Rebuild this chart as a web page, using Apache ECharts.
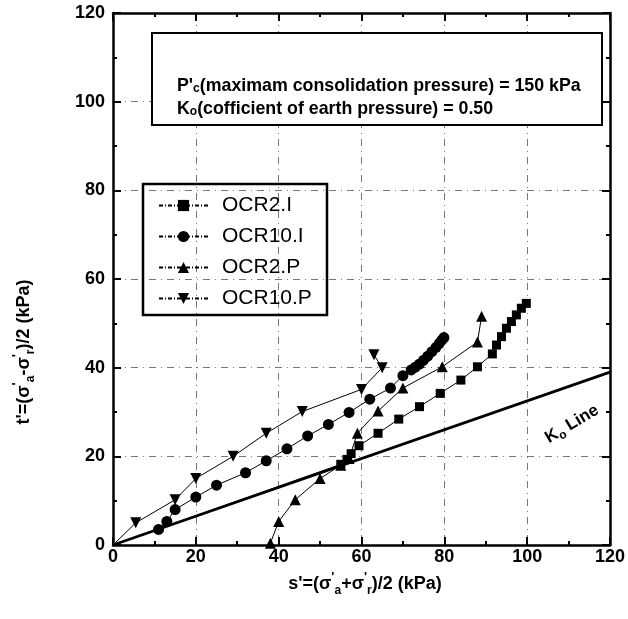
<!DOCTYPE html>
<html>
<head>
<meta charset="utf-8">
<script src="https://cdn.jsdelivr.net/npm/echarts@6/dist/echarts.min.js"></script>
<style>
  html, body { margin: 0; padding: 0; background: #fff; }
  #chart { width: 628px; height: 619px; }
</style>
</head>
<body>
<div id="chart"></div>
<script>
// values, s' (kPa) and t' (kPa)
var xTicks = [0, 20, 40, 60, 80, 100, 120];
var yTicks = [0, 20, 40, 60, 80, 100, 120];

var ocr2iS = [0, 55, 56.5, 57.5, 59.4, 64, 69, 74, 79, 84, 88, 91.6, 92.6, 93.8, 95, 96.2, 97.4, 98.6, 99.8];
var ocr2iT = [0, 18.2, 19.3, 20.6, 22.4, 25.2, 28.4, 31.2, 34.2, 37.2, 40.2, 43.1, 45.1, 47, 48.9, 50.4, 51.9, 53.4, 54.5];

var ocr10iS = [0, 11, 13, 15, 20, 25, 32, 37, 42, 47, 52, 57, 62, 67, 70, 72, 73, 74, 75, 76, 77, 78, 78.8, 79.4, 79.9];
var ocr10iT = [0, 3.5, 5.3, 8, 10.8, 13.5, 16.3, 19, 21.7, 24.6, 27.2, 29.9, 32.9, 35.4, 38.2, 39.5, 40.1, 40.8, 41.7, 42.6, 43.6, 44.6, 45.5, 46.2, 46.8];

var ocr2pS = [38, 40, 44, 50, 55, 57, 59, 64, 70, 79.5, 88, 89];
var ocr2pT = [0.4, 5.3, 10.2, 15, 18, 19.5, 25.2, 30.2, 35.4, 40.2, 45.8, 51.6];

var ocr10pS = [0, 5.5, 15, 20, 29, 37, 45.7, 60, 65, 63];
var ocr10pT = [0, 5, 10.2, 15, 20, 25.2, 30.1, 35.1, 40, 42.9];

var k0S = [0, 120];
var k0T = [0, 39];

var FONT = '"Liberation Sans", Arial, sans-serif';
var downTri = 'path://M0,0 L10,0 L5,9 Z';

function pts(s, t) {
    return s.map(function (v, i) {
        // no marker where the curve leaves the origin
        if (v === 0 && t[i] === 0) return { value: [v, t[i]], symbol: 'none' };
        return [v, t[i]];
    });
}

function line(name, s, t, symbol, size) {
    return {
        name: name,
        type: 'line',
        data: pts(s, t),
        symbol: symbol,
        symbolSize: size,
        itemStyle: { color: '#000' },
        lineStyle: { color: '#000', width: 1 },
        z: 3,
        animation: false
    };
}

var sub = { fontSize: 12, fontWeight: 'bold', fontFamily: FONT, verticalAlign: 'bottom', lineHeight: 10 };
var sup = { fontSize: 13, fontWeight: 'bold', fontFamily: FONT, verticalAlign: 'top', lineHeight: 10 };

function axisX(pos, labels) {
    return {
        type: 'value', position: pos, min: 0, max: 120, interval: 20,
        axisLine: { onZero: false, lineStyle: { color: '#000', width: 2.5 } },
        axisTick: { inside: true, length: 8, lineStyle: { color: '#000', width: 2 } },
        minorTick: { show: true, splitNumber: 2, length: 4, lineStyle: { color: '#000', width: 2 } },
        axisLabel: labels ? {
            show: true, color: '#000', fontSize: 18, fontWeight: 'bold', fontFamily: FONT, margin: 3,
            formatter: function (v) { return xTicks.indexOf(v) >= 0 ? v : ''; }
        } : { show: false },
        splitLine: { show: labels, lineStyle: { color: '#777', width: 1, type: [7, 5, 1, 5] } }
    };
}

function axisY(pos, labels) {
    return {
        type: 'value', position: pos, min: 0, max: 120, interval: 20,
        axisLine: { onZero: false, lineStyle: { color: '#000', width: 2.5 } },
        axisTick: { inside: true, length: 8, lineStyle: { color: '#000', width: 2 } },
        minorTick: { show: true, splitNumber: 2, length: 4, lineStyle: { color: '#000', width: 2 } },
        axisLabel: labels ? {
            show: true, color: '#000', fontSize: 18, fontWeight: 'bold', fontFamily: FONT, margin: 8,
            formatter: function (v) { return yTicks.indexOf(v) >= 0 ? v : ''; }
        } : { show: false },
        splitLine: { show: labels, lineStyle: { color: '#777', width: 1, type: [7, 5, 1, 5] } }
    };
}

var chart = echarts.init(document.getElementById('chart'));

chart.setOption({
    backgroundColor: '#fff',
    animation: false,
    grid: { left: 113, right: 16, top: 13, bottom: 74 },
    xAxis: [axisX('bottom', true), axisX('top', false)],
    yAxis: [axisY('left', true), axisY('right', false)],
    legend: {
        orient: 'vertical',
        left: 158, top: 195,
        padding: 0,
        itemWidth: 49, itemHeight: 14, itemGap: 10,
        data: ['OCR2.I', 'OCR10.I', 'OCR2.P', 'OCR10.P'],
        lineStyle: { type: [4, 2, 1, 2] },
        textStyle: { color: '#000', fontSize: 21, lineHeight: 20, fontFamily: FONT, padding: [0, 0, 0, 9] }
    },
    graphic: [
        {
            type: 'rect', shape: { x: 152, y: 33, width: 450, height: 92 },
            style: { fill: '#fff', stroke: '#000', lineWidth: 2 }, z: 10
        },
        {
            type: 'text', x: 177, y: 86, z: 11,
            style: {
                text: "P'{s|c}(maximam consolidation pressure) = 150 kPa",
                font: 'bold 17.8px ' + FONT, fill: '#000', verticalAlign: 'middle',
                rich: { s: sub }
            }
        },
        {
            type: 'text', x: 177, y: 109, z: 11,
            style: {
                text: 'K{s|o}(cofficient of earth pressure) = 0.50',
                font: 'bold 17.8px ' + FONT, fill: '#000', verticalAlign: 'middle',
                rich: { s: sub }
            }
        },
        {
            type: 'rect', shape: { x: 143, y: 184, width: 184, height: 131 },
            style: { fill: 'rgba(0,0,0,0)', stroke: '#000', lineWidth: 2.5 }, z: 10
        },
        {
            type: 'text', x: 365, y: 584, z: 11,
            style: {
                text: "s'=(σ{p|'}{s|a}+σ{p|'}{s|r})/2 (kPa)",
                font: 'bold 18px ' + FONT, fill: '#000', align: 'center', verticalAlign: 'middle',
                lineHeight: 26, rich: { s: sub, p: sup }
            }
        },
        {
            type: 'text', x: 24, y: 352, rotation: Math.PI / 2, z: 11,
            style: {
                text: "t'=(σ{p|'}{s|a}-σ{p|'}{s|r})/2 (kPa)",
                font: 'bold 18px ' + FONT, fill: '#000', align: 'center', verticalAlign: 'middle',
                lineHeight: 26, rich: { s: sub, p: sup }
            }
        },
        {
            type: 'text', x: 572, y: 424, rotation: 0.54, z: 11,
            style: {
                text: 'K{s|o} Line',
                font: 'bold 17px ' + FONT, fill: '#000', align: 'center', verticalAlign: 'middle',
                lineHeight: 22, rich: { s: sub }
            }
        }
    ],
    series: [
        line('OCR2.I', ocr2iS, ocr2iT, 'rect', 9),
        line('OCR10.I', ocr10iS, ocr10iT, 'circle', 11),
        line('OCR2.P', ocr2pS, ocr2pT, 'triangle', 11),
        line('OCR10.P', ocr10pS, ocr10pT, downTri, 11),
        {
            name: 'K0 Line',
            type: 'line',
            data: pts(k0S, k0T),
            symbol: 'none',
            lineStyle: { color: '#000', width: 2.8 },
            z: 2,
            animation: false
        }
    ]
});
</script>
</body>
</html>
